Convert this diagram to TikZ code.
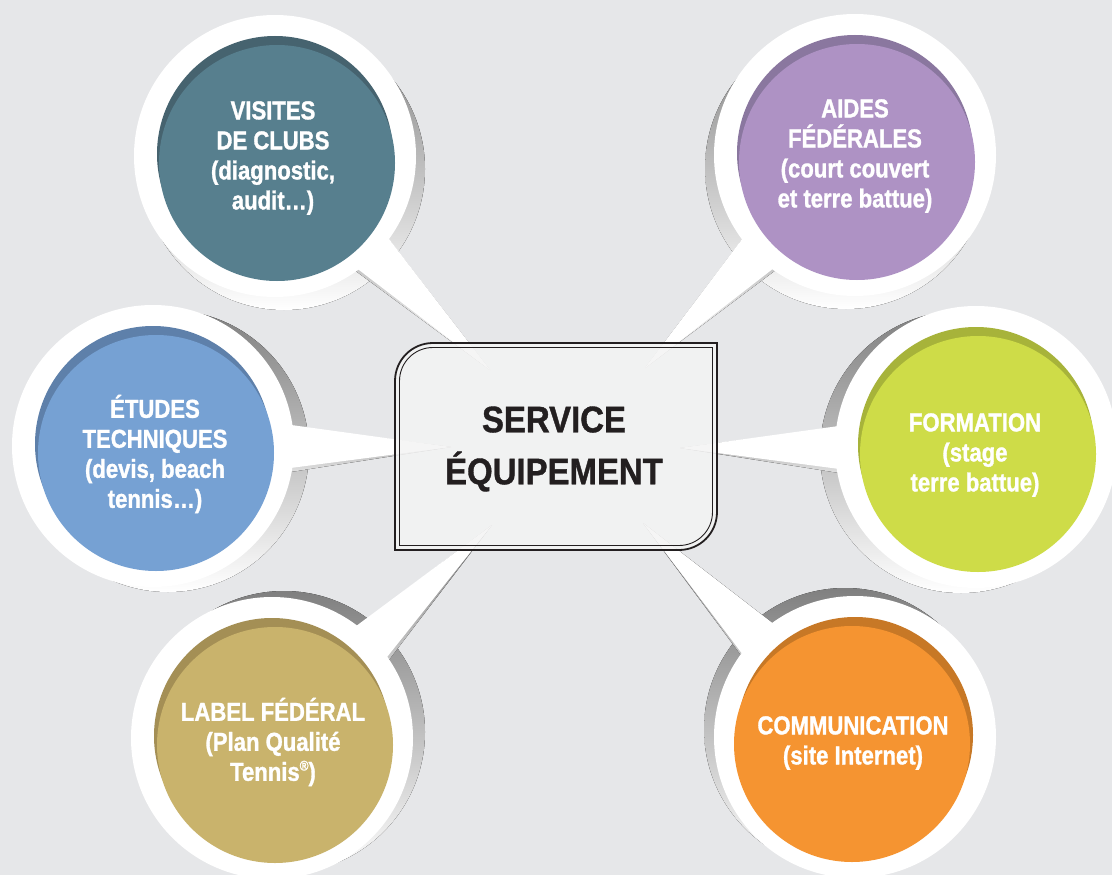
\documentclass[tikz,border=0pt]{standalone}
\usepackage{fontspec}
\newfontfamily\bubblefont[FakeStretch=0.85,FakeBold=1.2]{Liberation Sans}
\newfontfamily\centerfont[FakeStretch=0.89,FakeBold=1]{Liberation Sans}
\usetikzlibrary{calc}
\definecolor{bg}{HTML}{E6E7E9}
\definecolor{shade}{HTML}{CFD0D3}
\definecolor{tealc}{HTML}{577F8E}\definecolor{tealdk}{HTML}{46636F}
\definecolor{purc}{HTML}{AE92C4}\definecolor{purdk}{HTML}{8A779F}
\definecolor{bluec}{HTML}{76A1D3}\definecolor{bluedk}{HTML}{5E80AA}
\definecolor{greenc}{HTML}{CEDC48}\definecolor{greendk}{HTML}{A7B33A}
\definecolor{goldc}{HTML}{C9B36C}\definecolor{golddk}{HTML}{A48F55}
\definecolor{orangec}{HTML}{F59431}\definecolor{orangedk}{HTML}{C77826}
\definecolor{boxfill}{HTML}{F4F4F4}
\definecolor{ink}{HTML}{231F20}
\newcommand\drawwedge[3]{\fill[#3] ($(#1)!40pt!90:(#2)$) -- (#2) -- ($(#1)!40pt!-90:(#2)$) -- cycle;}
\newcommand\bubbleshadow[3]{%
  \coordinate (#1s) at ($(#1)+(#3)$);
  \fill[shade] (#1s) circle[radius=141];
  \drawwedge{#1s}{#2}{shade}}
\newcommand\bubblewhite[2]{%
  \fill[white] (#1) circle[radius=141];
  \drawwedge{#1}{#2}{white}}
\newcommand\bubblecolor[4]{%
  \fill[#3] ($(#1)+(0,-2)$) circle[radius=118];
  \fill[#2] ($(#1)+(#4,7)$) circle[radius=118];}
\tikzset{
  bubbletext/.style={text=white, font=\bubblefont\bfseries\fontsize{26}{30}\selectfont, align=center, inner sep=0pt},
  centertext/.style={text=ink, font=\centerfont\bfseries\fontsize{37}{52}\selectfont, align=center, inner sep=0pt},
}
\begin{document}
\begin{tikzpicture}[x=1pt,y=-1pt]
\useasboundingbox (0,0) rectangle (1112,875);
\clip (0,0) rectangle (1112,875);
\fill[bg] (0,0) rectangle (1112,875);
% bubble centres and wedge tips
\coordinate (V) at (275,156);  \coordinate (Vt) at (490,370);
\coordinate (A) at (855,155);  \coordinate (At) at (645,368);
\coordinate (E) at (153,446);  \coordinate (Et) at (451,447);
\coordinate (F) at (976,447);  \coordinate (Ft) at (680,448);
\coordinate (L) at (272,738);  \coordinate (Lt) at (492,525);
\coordinate (C) at (855,737);  \coordinate (Ct) at (643,523);
% shadows
\bubbleshadow{V}{Vt}{9,13}
\bubbleshadow{A}{At}{-9,13}
\bubbleshadow{E}{Et}{15,5}
\bubbleshadow{F}{Ft}{-15,5}
\bubbleshadow{L}{Lt}{12,-6}
\bubbleshadow{C}{Ct}{-10,-8}
% white rims and pointers
\bubblewhite{V}{Vt}
\bubblewhite{A}{At}
\bubblewhite{E}{Et}
\bubblewhite{F}{Ft}
\bubblewhite{L}{Lt}
\bubblewhite{C}{Ct}
% coloured discs
\bubblecolor{V}{tealc}{tealdk}{2}
\bubblecolor{A}{purc}{purdk}{2}
\bubblecolor{E}{bluec}{bluedk}{3}
\bubblecolor{F}{greenc}{greendk}{2}
\bubblecolor{L}{goldc}{golddk}{3}
\bubblecolor{C}{orangec}{orangedk}{-3}
% central box
\fill[boxfill, fill opacity=0.85] (395,550) -- (395,381) arc[start angle=180,end angle=270,radius=38] -- (717,343) -- (717,512) arc[start angle=0,end angle=90,radius=38] -- cycle;
\draw[ink, line width=1.8pt] (395,550) -- (395,381) arc[start angle=180,end angle=270,radius=38] -- (717,343) -- (717,512) arc[start angle=0,end angle=90,radius=38] -- cycle;
\draw[ink, line width=0.9pt] (399.5,545.5) -- (399.5,381) arc[start angle=180,end angle=270,radius=33.5] -- (712.5,347.5) -- (712.5,512) arc[start angle=0,end angle=90,radius=33.5] -- cycle;
% texts
\node[centertext] (service) at (554,449) {SERVICE\\ÉQUIPEMENT};
\node[bubbletext] (visites) at (273,158) {VISITES\\DE CLUBS\\(diagnostic,\\audit…)};
\node[bubbletext] (aides) at (855,156) {AIDES\\FÉDÉRALES\\(court couvert\\et terre battue)};
\node[bubbletext] (etudes) at (155,454) {ÉTUDES\\TECHNIQUES\\(devis, beach\\tennis…)};
\node[bubbletext] (formation) at (975,455) {FORMATION\\(stage\\terre battue)};
\node[bubbletext] (label) at (273,742) {LABEL FÉDÉRAL\\(Plan Qualité\\Tennis\raisebox{0.75ex}{\fontsize{14}{14}\selectfont ®})};
\node[bubbletext] (comm) at (853,743) {COMMUNICATION\\(site Internet)};
\end{tikzpicture}
\end{document}
